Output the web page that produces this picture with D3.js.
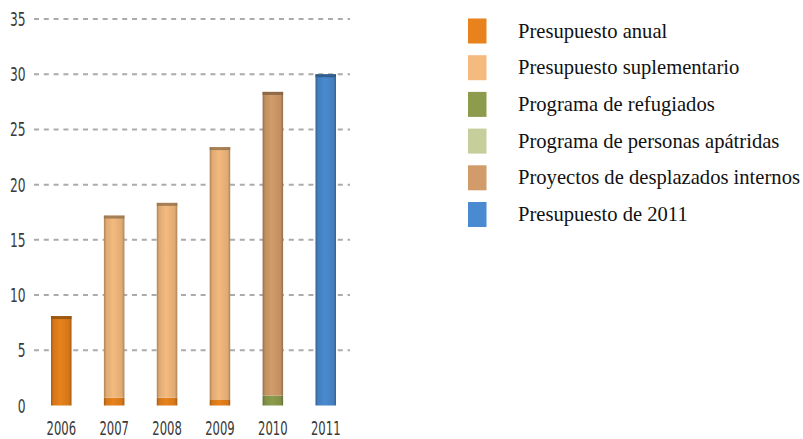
<!DOCTYPE html>
<html>
<head>
<meta charset="utf-8">
<script src="https://cdn.jsdelivr.net/npm/d3@7/dist/d3.min.js"></script>
<style>
  html, body { margin: 0; padding: 0; background: #fff; }
  svg { display: block; }
</style>
</head>
<body>
<svg id="chart" width="803" height="439"></svg>
<script>
// ---- Data ----
const years = ["2006", "2007", "2008", "2009", "2010", "2011"];
const presupuestoAnual        = [8.1, 0.7, 0.7, 0.5, 0, 0];
const presupuestoSuplementario = [0, 16.5, 17.65, 22.9, 0, 0];
const programaRefugiados      = [0, 0, 0, 0, 0.9, 0];
const programaApatridas       = [0, 0, 0, 0, 0, 0];
const proyectosDesplazados    = [0, 0, 0, 0, 27.5, 0];
const presupuesto2011         = [0, 0, 0, 0, 0, 30.0];
const yTicks = [0, 5, 10, 15, 20, 25, 30, 35];

const seriesNames = [
  "Presupuesto anual",
  "Presupuesto suplementario",
  "Programa de refugiados",
  "Programa de personas apátridas",
  "Proyectos de desplazados internos",
  "Presupuesto de 2011"
];
const seriesValues = [presupuestoAnual, presupuestoSuplementario, programaRefugiados,
                      programaApatridas, proyectosDesplazados, presupuesto2011];
const colors = ["#E8821C", "#F4BA7E", "#8C9C4C", "#C6CE9C", "#D29C6A", "#4A8AD0"];

// ---- Build table ----
const keys = seriesNames.map((d, i) => "s" + i);
const table = years.map((y, j) => {
  const row = { year: y };
  keys.forEach((k, i) => row[k] = seriesValues[i][j]);
  return row;
});
const stacked = d3.stack().keys(keys)(table);

const svg = d3.select("#chart");

const x = d3.scaleBand().domain(years).range([51, 336]).paddingInner(0.612).paddingOuter(0);
const y = d3.scaleLinear().domain([0, 35]).range([405.5, 19]);

// gradients for shaded bar look
const defs = svg.append("defs");
colors.forEach((c, i) => {
  const g = defs.append("linearGradient").attr("id", "grad" + i)
    .attr("x1", "0%").attr("x2", "100%").attr("y1", "0%").attr("y2", "0%");
  const dark = d3.color(c).darker(1.0);
  const mid = d3.color(c).darker(0.25);
  g.append("stop").attr("offset", "0%").attr("stop-color", dark);
  g.append("stop").attr("offset", "12%").attr("stop-color", mid);
  g.append("stop").attr("offset", "45%").attr("stop-color", c);
  g.append("stop").attr("offset", "88%").attr("stop-color", mid);
  g.append("stop").attr("offset", "100%").attr("stop-color", dark);
});

// gridlines (dashed), behind bars
svg.append("g")
  .selectAll("line")
  .data(yTicks.filter(t => t > 0))
  .join("line")
  .attr("x1", 34).attr("x2", 350)
  .attr("y1", d => y(d)).attr("y2", d => y(d))
  .attr("stroke", "#ababab")
  .attr("stroke-width", 2)
  .attr("stroke-dasharray", "5,4.8");

// y axis labels
const narrow = "'Liberation Sans Narrow', 'DejaVu Sans Condensed', sans-serif";
svg.append("g")
  .selectAll("text")
  .data(yTicks)
  .join("text")
  .attr("transform", d => `translate(25.5, ${y(d) + 7}) scale(0.7,1)`)
  .attr("text-anchor", "end")
  .attr("font-family", narrow)
  .attr("font-size", 19.5)
  .attr("fill", "#3a3a3a")
  .text(d => d);

// x axis labels
svg.append("g")
  .selectAll("text")
  .data(years)
  .join("text")
  .attr("transform", d => `translate(${x(d) + x.bandwidth() / 2}, 435) scale(0.68,1)`)
  .attr("text-anchor", "middle")
  .attr("font-family", narrow)
  .attr("font-size", 19)
  .attr("fill", "#3a3a3a")
  .text(d => d);

// bars
const barG = svg.append("g");
stacked.forEach((layer, i) => {
  barG.append("g")
    .selectAll("rect")
    .data(layer.filter(d => d[1] - d[0] > 0))
    .join("rect")
    .attr("x", d => x(d.data.year))
    .attr("width", x.bandwidth())
    .attr("y", d => y(d[1]))
    .attr("height", d => y(d[0]) - y(d[1]))
    .attr("fill", `url(#grad${i})`);
});

// dark top cap on each full bar
const topLayerOf = years.map((yr, j) => {
  let idx = -1;
  seriesValues.forEach((vals, i) => { if (vals[j] > 0) idx = i; });
  return idx;
});
const totals = years.map((yr, j) => d3.sum(seriesValues, v => v[j]));
barG.append("g")
  .selectAll("rect")
  .data(years)
  .join("rect")
  .attr("x", d => x(d))
  .attr("width", x.bandwidth())
  .attr("y", (d, j) => y(totals[j]))
  .attr("height", 3)
  .attr("fill", (d, j) => d3.color(colors[topLayerOf[j]]).darker(1.3))
  .attr("opacity", 0.85);

// legend
const legend = svg.append("g");
const legY = d3.scalePoint().domain(seriesNames).range([31, 214.5]);
legend.selectAll("rect")
  .data(seriesNames)
  .join("rect")
  .attr("x", 468)
  .attr("y", d => legY(d) - 12.5)
  .attr("width", 18.5)
  .attr("height", 25)
  .attr("fill", (d, i) => colors[i]);
legend.selectAll("text")
  .data(seriesNames)
  .join("text")
  .attr("x", 518)
  .attr("y", d => legY(d) + 6.5)
  .attr("font-family", "'Liberation Serif', 'Times New Roman', serif")
  .attr("font-size", 20.6)
  .attr("fill", "#111")
  .text(d => d);
</script>
</body>
</html>
